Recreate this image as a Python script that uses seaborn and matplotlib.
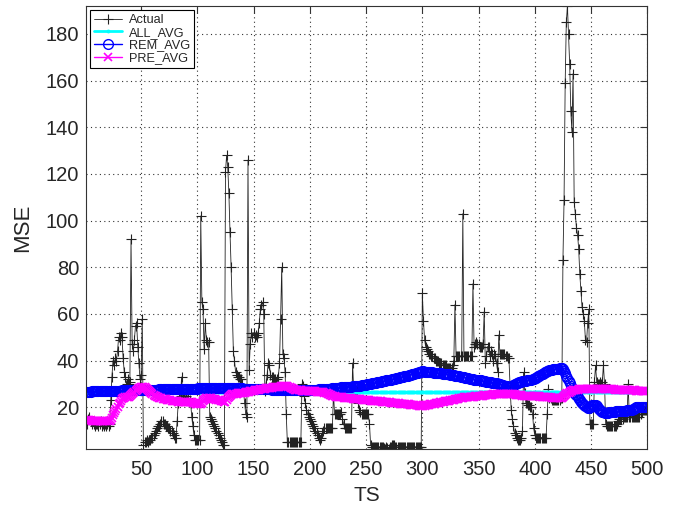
import numpy as np
import pandas as pd
import matplotlib
matplotlib.use("Agg")
import matplotlib.pyplot as plt
import seaborn as sns

# time steps
ts = list(range(1, 501))

# measured MSE per time step
actual = [
    14, 13, 15, 16, 14, 13, 14, 13, 12, 13,
    13, 12, 13, 14, 12, 13, 12, 13, 12, 13,
    12, 13, 23, 33, 40, 38, 41, 40, 44, 50,
    49, 52, 50, 41, 35, 33, 30, 32, 30, 31,
    92, 47, 44, 49, 55, 56, 46, 39, 32, 34,
    58, 4, 5, 5, 6, 5, 6, 6, 7, 7,
    8, 9, 10, 11, 12, 12, 13, 14, 14, 13,
    13, 12, 12, 11, 11, 10, 10, 9, 8, 7,
    7, 14, 22, 24, 25, 33, 24, 25, 23, 25,
    23, 24, 23, 22, 16, 12, 8, 6, 6, 6,
    6, 6, 102, 65, 62, 45, 56, 49, 48, 48,
    16, 15, 14, 13, 12, 11, 10, 9, 8, 7,
    6, 5, 4, 4, 121, 128, 123, 112, 95, 80,
    62, 44, 40, 35, 34, 33, 33, 32, 32, 30,
    27, 22, 17, 16, 126, 36, 47, 52, 50, 52,
    50, 51, 50, 52, 56, 62, 64, 65, 60, 27,
    30, 34, 39, 38, 34, 33, 33, 32, 32, 31,
    32, 33, 39, 58, 80, 43, 41, 35, 17, 5,
    5, 5, 5, 5, 5, 5, 5, 5, 5, 5,
    5, 5, 30, 29, 25, 22, 19, 17, 16, 15,
    14, 13, 12, 11, 10, 9, 8, 7, 6, 7,
    9, 10, 11, 11, 11, 11, 11, 11, 11, 11,
    26, 17, 17, 17, 17, 17, 17, 18, 15, 13,
    11, 11, 11, 11, 11, 11, 11, 39, 27, 26,
    26, 27, 22, 19, 18, 17, 17, 17, 17, 17,
    17, 17, 13, 4, 3, 3, 3, 3, 3, 3,
    3, 3, 3, 3, 3, 2.5, 2.3, 3, 2.5, 2.3,
    3, 3, 4, 4, 4, 3, 3, 3, 3, 3,
    3, 3, 3, 3, 3, 3, 3, 3, 3, 3,
    3, 3, 3, 3, 3, 3, 3, 3, 3, 69,
    57, 49, 46, 45, 44, 43, 43, 42, 42, 41,
    41, 40, 40, 40, 39, 39, 39, 38, 38, 38,
    38, 37, 37, 37, 37, 37, 38, 40, 64, 42,
    42, 42, 42, 42, 42, 103, 42, 42, 42, 42,
    42, 42, 42, 42, 73, 46, 47, 48, 47, 47,
    46, 46, 46, 47, 61, 39, 42, 46, 46, 42,
    44, 43, 40, 43, 42, 39, 35, 51, 43, 43,
    43, 43, 43, 42, 42, 41, 41, 29, 19, 15,
    12, 9, 8, 7, 6, 6, 6, 7, 10, 35,
    26, 22, 22, 21, 21, 20, 20, 17, 11, 8,
    7, 7, 7, 7, 7, 7, 7, 7, 7, 7,
    17, 28, 24, 24, 23, 23, 23, 23, 23, 23,
    23, 23, 24, 24, 83, 109, 159, 185, 192, 180,
    167, 147, 138, 163, 108, 103, 97, 94, 88, 77,
    70, 63, 60, 57, 49, 48, 56, 62, 13, 13,
    13, 13, 31, 38, 31, 30, 30, 31, 30, 31,
    38, 30, 13, 12, 12, 12, 12, 12, 12, 12,
    12, 12, 13, 14, 15, 15, 15, 15, 16, 16,
    16, 16, 30, 16, 16, 16, 16, 16, 16, 16,
    16, 16, 16, 17, 18, 19, 19, 19, 19, 19,
]

all_avg = [26.6] * 500

rem_avg = [
    26.7, 26.7, 26.7, 26.7, 26.7, 26.8, 26.8, 26.8, 26.8, 26.8,
    26.8, 26.8, 26.9, 26.9, 26.9, 26.9, 26.9, 26.9, 26.9, 27.0,
    27.0, 27.0, 27.0, 27.0, 27.0, 27.0, 27.1, 27.1, 27.1, 27.1,
    27.1, 27.1, 27.2, 27.2, 27.2, 27.2, 27.2, 27.2, 27.3, 27.3,
    27.3, 27.3, 27.3, 27.3, 27.3, 27.4, 27.4, 27.4, 27.4, 27.4,
    27.4, 27.4, 27.5, 27.5, 27.5, 27.5, 27.5, 27.5, 27.6, 27.6,
    27.6, 27.6, 27.6, 27.6, 27.6, 27.7, 27.7, 27.7, 27.7, 27.7,
    27.7, 27.7, 27.8, 27.8, 27.8, 27.8, 27.8, 27.8, 27.8, 27.8,
    27.9, 27.9, 27.9, 27.9, 27.9, 27.9, 27.9, 27.9, 27.9, 28.0,
    28.0, 28.0, 28.0, 28.0, 28.0, 28.0, 28.0, 28.0, 28.0, 28.0,
    28.1, 28.1, 28.1, 28.1, 28.1, 28.2, 28.2, 28.2, 28.2, 28.2,
    28.3, 28.3, 28.3, 28.3, 28.3, 28.3, 28.4, 28.4, 28.4, 28.4,
    28.4, 28.4, 28.4, 28.4, 28.4, 28.3, 28.3, 28.3, 28.3, 28.3,
    28.2, 28.2, 28.2, 28.2, 28.2, 28.1, 28.1, 28.1, 28.1, 28.1,
    28.0, 28.0, 28.0, 28.0, 28.0, 28.0, 27.9, 27.9, 27.9, 27.9,
    27.9, 27.9, 27.8, 27.8, 27.8, 27.8, 27.8, 27.8, 27.7, 27.7,
    27.7, 27.7, 27.7, 27.7, 27.7, 27.6, 27.6, 27.6, 27.6, 27.6,
    27.6, 27.6, 27.5, 27.5, 27.5, 27.5, 27.5, 27.5, 27.5, 27.5,
    27.5, 27.5, 27.4, 27.4, 27.4, 27.4, 27.4, 27.4, 27.4, 27.4,
    27.4, 27.4, 27.4, 27.4, 27.4, 27.4, 27.4, 27.4, 27.4, 27.4,
    27.4, 27.5, 27.5, 27.5, 27.6, 27.6, 27.6, 27.7, 27.7, 27.7,
    27.8, 27.8, 27.8, 27.9, 27.9, 27.9, 28.0, 28.0, 28.0, 28.1,
    28.1, 28.2, 28.2, 28.3, 28.3, 28.4, 28.4, 28.5, 28.5, 28.6,
    28.6, 28.7, 28.7, 28.8, 28.8, 28.9, 28.9, 29.0, 29.0, 29.1,
    29.1, 29.2, 29.2, 29.3, 29.3, 29.4, 29.5, 29.5, 29.6, 29.7,
    29.8, 29.9, 30.0, 30.1, 30.2, 30.3, 30.4, 30.5, 30.6, 30.7,
    30.8, 30.9, 31.0, 31.1, 31.2, 31.3, 31.4, 31.5, 31.6, 31.7,
    31.8, 31.9, 32.0, 32.1, 32.2, 32.3, 32.4, 32.5, 32.6, 32.8,
    32.9, 33.0, 33.1, 33.3, 33.4, 33.5, 33.6, 33.8, 33.9, 34.0,
    34.2, 34.3, 34.4, 34.6, 34.7, 34.8, 35.0, 35.1, 35.3, 35.4,
    35.4, 35.3, 35.3, 35.2, 35.2, 35.1, 35.1, 35.0, 35.0, 34.9,
    34.9, 34.8, 34.7, 34.7, 34.6, 34.5, 34.5, 34.4, 34.4, 34.3,
    34.2, 34.2, 34.1, 34.1, 34.0, 33.9, 33.8, 33.7, 33.6, 33.5,
    33.4, 33.3, 33.2, 33.1, 33.0, 32.9, 32.8, 32.7, 32.6, 32.5,
    32.4, 32.3, 32.2, 32.1, 32.0, 31.9, 31.9, 31.8, 31.8, 31.7,
    31.6, 31.5, 31.4, 31.3, 31.2, 31.1, 31.0, 30.9, 30.9, 30.8,
    30.7, 30.6, 30.5, 30.4, 30.3, 30.2, 30.0, 29.9, 29.8, 29.7,
    29.6, 29.4, 29.3, 29.2, 29.1, 28.9, 28.8, 28.6, 28.9, 29.2,
    29.5, 29.8, 30.1, 30.3, 30.5, 30.7, 30.9, 31.0, 31.1, 31.2,
    31.3, 31.4, 31.5, 31.6, 31.7, 31.8, 31.9, 32.0, 32.2, 32.4,
    32.6, 32.9, 33.2, 33.5, 33.8, 34.1, 34.4, 34.7, 35.0, 35.2,
    35.4, 35.6, 35.8, 36.0, 36.1, 36.2, 36.3, 36.4, 36.5, 36.6,
    36.6, 36.7, 36.7, 36.8, 36.5, 35.6, 34.6, 33.5, 32.4, 31.3,
    30.3, 29.3, 28.4, 27.5, 26.7, 25.9, 25.1, 24.3, 23.6, 23.0,
    22.4, 21.9, 21.4, 20.9, 20.5, 20.1, 19.7, 19.7, 20.0, 20.4,
    20.8, 21.0, 21.0, 20.8, 20.4, 19.9, 19.4, 18.9, 18.5, 18.1,
    17.8, 17.6, 17.5, 17.5, 17.6, 17.8, 17.9, 18.0, 18.0, 18.1,
    18.1, 18.2, 18.2, 18.3, 18.3, 18.4, 18.4, 18.5, 18.5, 18.6,
    18.6, 18.7, 18.7, 18.8, 18.8, 18.9, 19.1, 19.4, 19.7, 20.0,
    20.2, 20.3, 20.3, 20.3, 20.3, 20.3, 20.3, 20.3, 20.3, 20.3,
]

pre_avg = [
    14.5, 14.5, 14.4, 14.4, 14.4, 14.3, 14.3, 14.3, 14.3, 14.2,
    14.2, 14.2, 14.2, 14.1, 14.1, 14.1, 14.1, 14.0, 14.0, 14.0,
    14.0, 14.0, 14.5, 15.5, 16.6, 17.6, 18.5, 19.4, 20.3, 21.2,
    22.0, 22.8, 23.4, 23.8, 24.1, 24.3, 24.4, 24.5, 24.6, 24.9,
    25.3, 25.8, 26.3, 26.7, 27.1, 27.5, 27.8, 28.1, 28.4, 28.7,
    28.9, 28.8, 28.5, 28.1, 27.7, 27.3, 26.9, 26.5, 26.1, 25.7,
    25.3, 25.0, 24.7, 24.5, 24.3, 24.1, 23.9, 23.8, 23.7, 23.6,
    23.5, 23.4, 23.3, 23.2, 23.1, 23.0, 22.9, 22.8, 22.7, 22.6,
    22.5, 22.5, 22.4, 22.4, 22.4, 22.3, 22.3, 22.3, 22.2, 22.2,
    22.2, 22.2, 22.1, 22.1, 22.1, 22.0, 21.9, 21.8, 21.6, 21.5,
    21.4, 21.4, 21.5, 22.0, 22.6, 23.1, 23.5, 23.8, 24.0, 24.0,
    23.9, 23.8, 23.7, 23.6, 23.5, 23.4, 23.3, 23.2, 23.1, 23.0,
    22.9, 22.8, 22.6, 22.4, 22.4, 23.2, 24.0, 24.6, 25.0, 25.3,
    25.5, 25.6, 25.7, 25.8, 25.9, 26.0, 26.0, 26.1, 26.2, 26.2,
    26.3, 26.3, 26.4, 26.5, 26.6, 26.7, 26.8, 26.9, 27.0, 27.1,
    27.2, 27.3, 27.4, 27.5, 27.6, 27.7, 27.8, 27.9, 28.0, 28.0,
    28.1, 28.1, 28.2, 28.2, 28.3, 28.4, 28.5, 28.6, 28.7, 28.8,
    28.8, 28.9, 28.9, 29.0, 29.0, 29.1, 29.1, 29.1, 29.1, 29.0,
    28.8, 28.6, 28.4, 28.2, 28.0, 27.8, 27.6, 27.5, 27.4, 27.3,
    27.2, 27.2, 27.1, 27.1, 27.1, 27.0, 27.0, 27.0, 27.0, 26.9,
    26.9, 26.9, 26.8, 26.8, 26.8, 26.7, 26.7, 26.7, 26.6, 26.6,
    26.5, 26.4, 26.3, 26.1, 26.0, 25.8, 25.6, 25.4, 25.2, 25.0,
    24.8, 24.7, 24.6, 24.5, 24.4, 24.3, 24.3, 24.2, 24.2, 24.1,
    24.1, 24.0, 24.0, 23.9, 23.9, 23.8, 23.8, 23.7, 23.7, 23.6,
    23.6, 23.5, 23.5, 23.4, 23.4, 23.3, 23.3, 23.2, 23.2, 23.1,
    23.1, 23.0, 23.0, 22.9, 22.9, 22.8, 22.8, 22.7, 22.7, 22.6,
    22.6, 22.5, 22.5, 22.4, 22.4, 22.3, 22.3, 22.2, 22.2, 22.1,
    22.1, 22.0, 22.0, 21.9, 21.9, 21.8, 21.8, 21.7, 21.7, 21.6,
    21.6, 21.5, 21.5, 21.4, 21.4, 21.3, 21.2, 21.2, 21.1, 21.1,
    21.0, 21.0, 20.9, 20.9, 20.8, 20.8, 20.7, 20.7, 20.6, 20.5,
    20.6, 20.7, 20.8, 20.9, 21.0, 21.1, 21.2, 21.3, 21.4, 21.5,
    21.6, 21.7, 21.8, 21.9, 22.0, 22.1, 22.2, 22.3, 22.4, 22.5,
    22.6, 22.7, 22.8, 22.9, 23.0, 23.1, 23.2, 23.3, 23.4, 23.5,
    23.6, 23.7, 23.8, 23.9, 24.0, 24.1, 24.2, 24.2, 24.3, 24.3,
    24.4, 24.4, 24.5, 24.5, 24.6, 24.6, 24.7, 24.7, 24.8, 24.8,
    24.9, 24.9, 25.0, 25.0, 25.1, 25.1, 25.2, 25.2, 25.3, 25.3,
    25.4, 25.4, 25.5, 25.5, 25.6, 25.6, 25.7, 25.7, 25.7, 25.8,
    25.8, 25.8, 25.8, 25.8, 25.8, 25.8, 25.8, 25.8, 25.7, 25.7,
    25.6, 25.5, 25.4, 25.3, 25.2, 25.2, 25.1, 25.1, 25.0, 25.0,
    25.0, 25.0, 25.0, 25.0, 25.0, 25.0, 25.0, 24.9, 24.9, 24.9,
    24.8, 24.8, 24.7, 24.7, 24.6, 24.6, 24.5, 24.5, 24.4, 24.4,
    24.3, 24.3, 24.2, 24.2, 24.1, 24.1, 24.0, 24.0, 24.0, 24.0,
    24.0, 24.0, 24.0, 24.1, 24.4, 24.8, 25.2, 25.6, 26.0, 26.3,
    26.6, 26.8, 27.0, 27.2, 27.3, 27.4, 27.5, 27.6, 27.7, 27.8,
    27.8, 27.9, 27.9, 28.0, 28.0, 28.0, 28.0, 28.0, 28.0, 28.0,
    28.0, 28.0, 28.0, 28.0, 28.0, 27.9, 27.9, 27.9, 27.9, 27.9,
    27.9, 27.9, 27.8, 27.8, 27.8, 27.8, 27.7, 27.7, 27.7, 27.7,
    27.6, 27.6, 27.6, 27.5, 27.5, 27.5, 27.5, 27.4, 27.4, 27.4,
    27.4, 27.3, 27.3, 27.3, 27.3, 27.2, 27.2, 27.2, 27.2, 27.1,
    27.1, 27.1, 27.1, 27.0, 27.0, 27.0, 27.0, 26.9, 26.9, 26.9,
]

x_ticks = [50, 100, 150, 200, 250, 300, 350, 400, 450, 500]
y_ticks = [20, 40, 60, 80, 100, 120, 140, 160, 180]

df = pd.DataFrame({"TS": ts, "Actual": actual, "ALL_AVG": all_avg,
                   "REM_AVG": rem_avg, "PRE_AVG": pre_avg})

sns.set_style("white")
plt.rcParams['font.family'] = ['Liberation Sans', 'DejaVu Sans']

fig = plt.figure(figsize=(6.8, 5.08), dpi=100)
ax = fig.add_axes([0.1265, 0.1156, 0.8254, 0.8726])

# seaborn paints marker edges white by default, so set mec explicitly
sns.lineplot(data=df, x="TS", y="Actual", ax=ax, color="#222222", lw=0.6,
             marker="+", markersize=7, markeredgewidth=0.8,
             markeredgecolor="#222222", label="Actual")
sns.lineplot(data=df, x="TS", y="ALL_AVG", ax=ax, color="cyan", lw=2,
             marker=".", markersize=4, markeredgecolor="cyan",
             label="ALL_AVG")
sns.lineplot(data=df, x="TS", y="REM_AVG", ax=ax, color="blue", lw=1,
             marker="o", markersize=7, markerfacecolor="none",
             markeredgecolor="blue", markeredgewidth=1, label="REM_AVG")
sns.lineplot(data=df, x="TS", y="PRE_AVG", ax=ax, color="magenta", lw=1,
             marker="x", markersize=5.5, markeredgewidth=1.2,
             markeredgecolor="magenta", label="PRE_AVG")

ax.set_xlim(1, 500)
ax.set_ylim(2, 192)
ax.set_xticks(x_ticks)
ax.set_yticks(y_ticks)
ax.grid(True, linestyle=(0, (1, 3)), color="#333333", lw=0.8)
ax.tick_params(direction="in", top=True, right=True, labelsize=14.5,
               length=5, color="#333333")
ax.tick_params(axis="x", pad=8)
ax.tick_params(axis="y", pad=5)
for s in ax.spines.values():
    s.set_color("#333333")
    s.set_linewidth(0.8)

ax.set_xlabel("TS", fontsize=15, labelpad=5)
ax.set_ylabel("MSE", fontsize=16, labelpad=9)

leg = ax.legend(loc="upper left", numpoints=1, fontsize=9.2, fancybox=False,
                framealpha=1, edgecolor="black", borderaxespad=0.35,
                handlelength=2.2, labelspacing=0.05, borderpad=0.3,
                handletextpad=0.5)
leg.get_frame().set_linewidth(0.8)

fig.savefig("out.png", dpi=100)
